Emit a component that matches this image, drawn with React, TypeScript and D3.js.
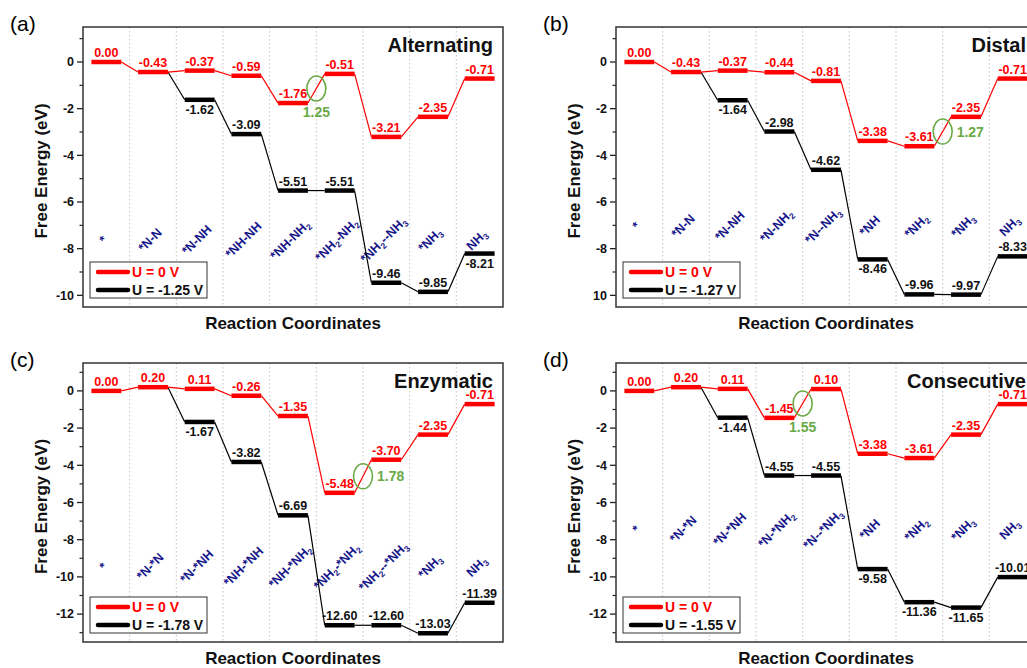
import React from "react";
import * as d3 from "d3";

// reaction step labels ("_2" = subscript 2)
const altCats = ["*", "*N-N", "*N-NH", "*NH-NH", "*NH-NH_2", "*NH_2-NH_2", "*NH_2--NH_3", "*NH_3", "NH_3"];
const disCats = ["*", "*N-N", "*N-NH", "*N-NH_2", "*N--NH_3", "*NH", "*NH_2", "*NH_3", "NH_3"];
const enzCats = ["*", "*N-*N", "*N-*NH", "*NH-*NH", "*NH-*NH_2", "*NH_2-*NH_2", "*NH_2--*NH_3", "*NH_3", "NH_3"];
const conCats = ["*", "*N-*N", "*N-*NH", "*N-*NH_2", "*N--*NH_3", "*NH", "*NH_2", "*NH_3", "NH_3"];

// free energies (eV) at U = 0 V
const altU0 = [0.0, -0.43, -0.37, -0.59, -1.76, -0.51, -3.21, -2.35, -0.71];
const disU0 = [0.0, -0.43, -0.37, -0.44, -0.81, -3.38, -3.61, -2.35, -0.71];
const enzU0 = [0.0, 0.2, 0.11, -0.26, -1.35, -5.48, -3.7, -2.35, -0.71];
const conU0 = [0.0, 0.2, 0.11, -1.45, 0.1, -3.38, -3.61, -2.35, -0.71];

// free energies (eV) at the limiting potential
const altUL = [0.0, -0.43, -1.62, -3.09, -5.51, -5.51, -9.46, -9.85, -8.21];
const disUL = [0.0, -0.43, -1.64, -2.98, -4.62, -8.46, -9.96, -9.97, -8.33];
const enzUL = [0.0, 0.2, -1.67, -3.82, -6.69, -12.6, -12.6, -13.03, -11.39];
const conUL = [0.0, 0.2, -1.44, -4.55, -4.55, -9.58, -11.36, -11.65, -10.01];

const limitV = ["-1.25", "-1.27", "-1.78", "-1.55"];

const FONT = "Arial, 'Liberation Sans', sans-serif";
const RED = "#ff0000";
const GREEN = "#6aaa46";
const NAVY = "#16168a";

type PanelCfg = {
  tag: string;
  title: string;
  cats: string[];
  u0: number[];
  ul: number[];
  volt: string;
  below: number[]; // black labels drawn under the bar
  gap: number; // potential-determining step: between gap and gap+1
  gapSide: "below" | "right";
  yMin: number;
  catY: number;
  left: number;
  top: number;
  height: number;
  clipX?: number;
};

const panels: PanelCfg[] = [
  { tag: "(a)", title: "Alternating", cats: altCats, u0: altU0, ul: altUL, volt: limitV[0], below: [2, 8], gap: 4, gapSide: "below", yMin: -10.5, catY: -7.75, left: 83, top: 27, height: 280 },
  { tag: "(b)", title: "Distal", cats: disCats, u0: disU0, ul: disUL, volt: limitV[1], below: [2, 5], gap: 6, gapSide: "right", yMin: -10.5, catY: -7.15, left: 616, top: 27, height: 280, clipX: 593 },
  { tag: "(c)", title: "Enzymatic", cats: enzCats, u0: enzU0, ul: enzUL, volt: limitV[2], below: [2], gap: 5, gapSide: "right", yMin: -13.5, catY: -9.6, left: 83, top: 363, height: 279 },
  { tag: "(d)", title: "Consecutive", cats: conCats, u0: conU0, ul: conUL, volt: limitV[3], below: [2, 5, 6, 7], gap: 3, gapSide: "below", yMin: -13.5, catY: -7.6, left: 616, top: 363, height: 279 },
];

const fmt = (v: number) => v.toFixed(2);

function CatText({ text }: { text: string }) {
  const parts = text.split(/(_\d)/).filter((p) => p.length);
  let prevSub = false;
  return (
    <>
      {parts.map((p, i) => {
        if (p.startsWith("_")) {
          prevSub = true;
          return (
            <tspan key={i} fontSize={8.5} dy={3}>
              {p.slice(1)}
            </tspan>
          );
        }
        const dy = prevSub ? -3 : 0;
        prevSub = false;
        return (
          <tspan key={i} dy={dy}>
            {p}
          </tspan>
        );
      })}
    </>
  );
}

function Panel({ cfg, idx }: { cfg: PanelCfg; idx: number }) {
  const w = 420;
  const { left, top, height } = cfg;
  const bottom = top + height;
  const right = left + w;

  const x = d3
    .scaleBand<number>()
    .domain(d3.range(cfg.cats.length))
    .range([left, right])
    .paddingInner(0)
    .paddingOuter(0);
  const cx = (i: number) => (x(i) as number) + x.bandwidth() / 2;
  const half = x.bandwidth() * 0.32;

  const y = d3.scaleLinear().domain([cfg.yMin, 1.5]).range([bottom, top]);
  const major = d3.range(Math.ceil(cfg.yMin / 2) * 2, 1.5, 2);
  const minor = d3.range(Math.ceil(cfg.yMin), 1.5, 1).filter((v) => Math.abs(v % 2) === 1);

  const start = cfg.ul.findIndex((v, i) => v !== cfg.u0[i]);

  const gx = left + x.bandwidth() * (cfg.gap + 1);
  const gy = y((cfg.u0[cfg.gap] + cfg.u0[cfg.gap + 1]) / 2);

  const clipId = `clip-${idx}`;

  return (
    <g fontFamily={FONT}>
      {cfg.clipX !== undefined && (
        <defs>
          <clipPath id={clipId}>
            <rect x={cfg.clipX} y={0} width={1027} height={668} />
          </clipPath>
        </defs>
      )}
      {/* panel tag */}
      <text x={left - 73} y={top + 4} fontSize={21}>
        {cfg.tag}
      </text>

      {/* vertical grid */}
      {d3.range(1, cfg.cats.length).map((i) => (
        <line
          key={i}
          x1={left + x.bandwidth() * i}
          x2={left + x.bandwidth() * i}
          y1={top}
          y2={bottom}
          stroke="#c4c4c4"
          strokeWidth={1}
          strokeDasharray="1.5,2.5"
        />
      ))}

      {/* y axis */}
      {major.map((v) => (
        <line key={"M" + v} x1={left - 6} x2={left} y1={y(v)} y2={y(v)} stroke="#222" strokeWidth={1.3} />
      ))}
      {minor.map((v) => (
        <line key={"m" + v} x1={left - 3.5} x2={left} y1={y(v)} y2={y(v)} stroke="#222" strokeWidth={1.2} />
      ))}
      <g clipPath={cfg.clipX !== undefined ? `url(#${clipId})` : undefined}>
        {major.map((v) => (
          <text
            key={"t" + v}
            x={left - 9}
            y={y(v)}
            dy="0.35em"
            textAnchor="end"
            fontSize={12.5}
            fontWeight="bold"
            fill="#111"
          >
            {String(v)}
          </text>
        ))}
      </g>
      <text
        transform={`translate(${left - 36},${top + height / 2 + 4}) rotate(-90)`}
        textAnchor="middle"
        fontSize={17}
        fontWeight="bold"
        fill="#111"
      >
        Free Energy (eV)
      </text>
      <text x={left + w / 2} y={bottom + 22} textAnchor="middle" fontSize={17} fontWeight="bold" fill="#111">
        Reaction Coordinates
      </text>

      {/* category labels */}
      {cfg.cats.map((c, i) => (
        <text
          key={"c" + i}
          transform={`translate(${cx(i)},${y(cfg.catY)}) rotate(-45)`}
          textAnchor="middle"
          fontSize={12.5}
          fontWeight="bold"
          fill={NAVY}
        >
          <CatText text={c} />
        </text>
      ))}

      {/* limiting potential path */}
      {d3.range(start, cfg.ul.length).map((i) => (
        <line
          key={"bl" + i}
          x1={cx(i - 1) + half}
          y1={y(cfg.ul[i - 1])}
          x2={cx(i) - half}
          y2={y(cfg.ul[i])}
          stroke="#000"
          strokeWidth={1.2}
        />
      ))}
      {d3.range(start, cfg.ul.length).map((i) => (
        <line key={"bb" + i} x1={cx(i) - half} x2={cx(i) + half} y1={y(cfg.ul[i])} y2={y(cfg.ul[i])} stroke="#000" strokeWidth={4.5} />
      ))}

      {/* U = 0 path */}
      {d3.range(1, cfg.u0.length).map((i) => (
        <line
          key={"rl" + i}
          x1={cx(i - 1) + half}
          y1={y(cfg.u0[i - 1])}
          x2={cx(i) - half}
          y2={y(cfg.u0[i])}
          stroke={RED}
          strokeWidth={1.2}
        />
      ))}
      {cfg.u0.map((v, i) => (
        <line key={"rb" + i} x1={cx(i) - half} x2={cx(i) + half} y1={y(v)} y2={y(v)} stroke={RED} strokeWidth={4.5} />
      ))}

      {/* value labels */}
      {cfg.u0.map((v, i) => (
        <text key={"rt" + i} x={cx(i)} y={y(v) - 5} textAnchor="middle" fontSize={12.5} fontWeight="bold" fill={RED}>
          {fmt(v)}
        </text>
      ))}
      {d3.range(start, cfg.ul.length).map((i) => {
        const b = cfg.below.includes(i);
        return (
          <text
            key={"bt" + i}
            x={cx(i)}
            y={y(cfg.ul[i]) + (b ? 14 : -5)}
            textAnchor="middle"
            fontSize={12.5}
            fontWeight="bold"
            fill="#111"
          >
            {fmt(cfg.ul[i])}
          </text>
        );
      })}

      {/* potential-determining step */}
      <ellipse cx={gx} cy={gy} rx={9.5} ry={12.5} fill="none" stroke={GREEN} strokeWidth={1.6} />
      {cfg.gapSide === "below" ? (
        <text x={gx} y={gy + 29} textAnchor="middle" fontSize={14} fontWeight="bold" fill={GREEN}>
          {cfg.volt.slice(1)}
        </text>
      ) : (
        <text x={gx + 14} y={gy + 5} fontSize={14} fontWeight="bold" fill={GREEN}>
          {cfg.volt.slice(1)}
        </text>
      )}

      {/* title */}
      <text x={right - 10} y={top + 25} textAnchor="end" fontSize={20} fontWeight="bold" fill="#111">
        {cfg.title}
      </text>

      {/* legend */}
      <g transform={`translate(${left + 7},${bottom - 45})`}>
        <rect x={0} y={0} width={117} height={36} fill="#fff" stroke="#333" strokeWidth={1} />
        <line x1={8} x2={38} y1={10} y2={10} stroke={RED} strokeWidth={4.5} strokeLinecap="round" />
        <text x={42} y={10} dy="0.36em" fontSize={14} fontWeight="bold" fill={RED}>
          U = 0 V
        </text>
        <line x1={8} x2={38} y1={28} y2={28} stroke="#000" strokeWidth={4.5} strokeLinecap="round" />
        <text x={42} y={28} dy="0.36em" fontSize={14} fontWeight="bold" fill="#111">
          {`U = ${cfg.volt} V`}
        </text>
      </g>

      {/* frame */}
      <rect x={left} y={top} width={w} height={height} fill="none" stroke="#333" strokeWidth={1.5} />
    </g>
  );
}

export default function App() {
  return (
    <svg
      width={1027}
      height={668}
      style={{ position: "absolute", left: 0, top: 0, display: "block", background: "#fff" }}
    >
      <rect width={1027} height={668} fill="#fff" />
      {panels.map((p, i) => (
        <Panel key={p.tag} cfg={p} idx={i} />
      ))}
    </svg>
  );
}
